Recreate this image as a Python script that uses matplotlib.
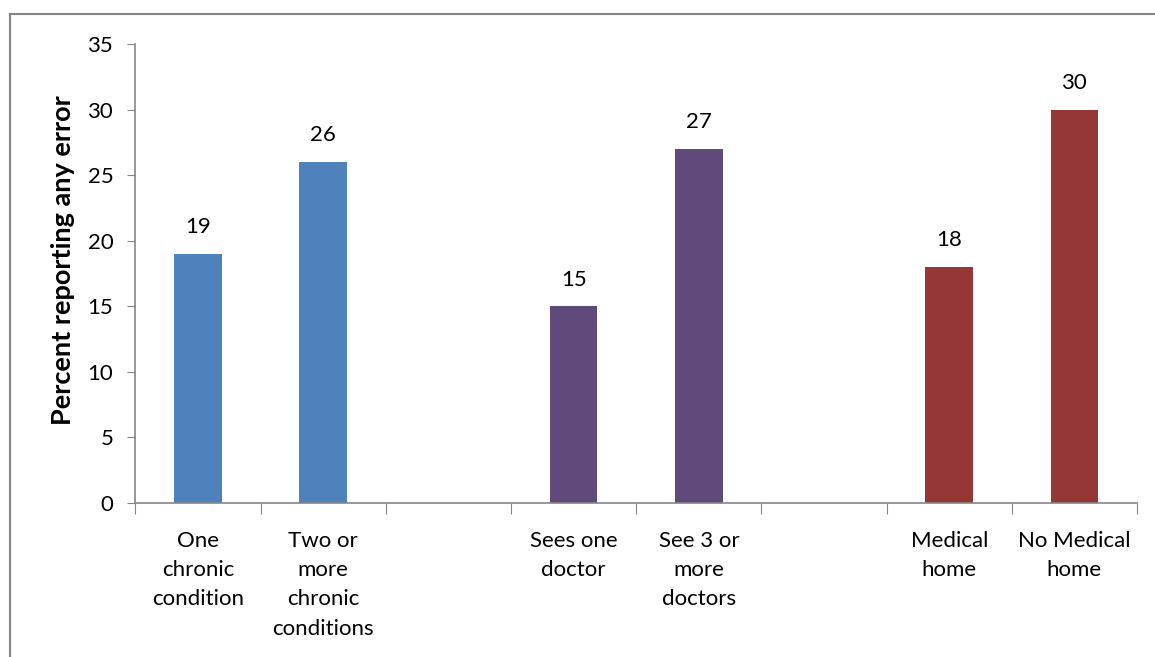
import matplotlib.pyplot as plt
from matplotlib.patches import Rectangle

# categories (empty strings are the gaps between groups)
labels = ["One\nchronic\ncondition", "Two or\nmore\nchronic\nconditions", "",
          "Sees one\ndoctor", "See 3 or\nmore\ndoctors", "",
          "Medical\nhome", "No Medical\nhome"]
values = [19, 26, None, 15, 27, None, 18, 30]
colors = ["#4F81BD", "#4F81BD", None, "#604A7B", "#604A7B", None, "#953735", "#953735"]

plt.rcParams['font.family'] = ['Lato', 'DejaVu Sans']
axis_gray = "#868686"
fs = 16

fig = plt.figure(figsize=(11.55, 6.57), dpi=100)
ax = fig.add_axes([0.1173, 0.2344, 0.8671, 0.6986])

for i, (v, c) in enumerate(zip(values, colors)):
    if v is None:
        continue
    ax.bar(i, v, width=0.38, color=c)
    ax.annotate(str(v), (i, v), xytext=(0, 12), textcoords='offset points',
                ha='center', va='bottom', fontsize=fs)

ax.set_xlim(-0.5, len(labels) - 0.5)
ax.set_ylim(0, 35)
ax.set_yticks(range(0, 36, 5))
ax.tick_params(axis='y', labelsize=fs, length=6, color=axis_gray, pad=10)

# category labels between tick marks, ticks at category boundaries
ax.set_xticks([i - 0.5 for i in range(len(labels) + 1)])
ax.set_xticklabels([])
ax.tick_params(axis='x', length=8, color=axis_gray)
for i, lab in enumerate(labels):
    ax.annotate(lab, (i, 0), xytext=(0, -20), textcoords='offset points',
                ha='center', va='top', fontsize=fs, linespacing=1.58)

for s in ['top', 'right']:
    ax.spines[s].set_visible(False)
for s in ['left', 'bottom']:
    ax.spines[s].set_color(axis_gray)
    ax.spines[s].set_linewidth(1.2)

ax.set_ylabel("Percent reporting any error", fontsize=19.5, fontweight='bold')
ax.yaxis.set_label_coords(-0.06, 0.53)

# chart border (cropped at right and bottom)
fig.patches.append(Rectangle((10 / 1155, -0.1), 1.2, 0.1 + 1 - 14 / 657,
                             transform=fig.transFigure, fill=False,
                             edgecolor=axis_gray, linewidth=1.5))

fig.savefig("out.png", dpi=100)
